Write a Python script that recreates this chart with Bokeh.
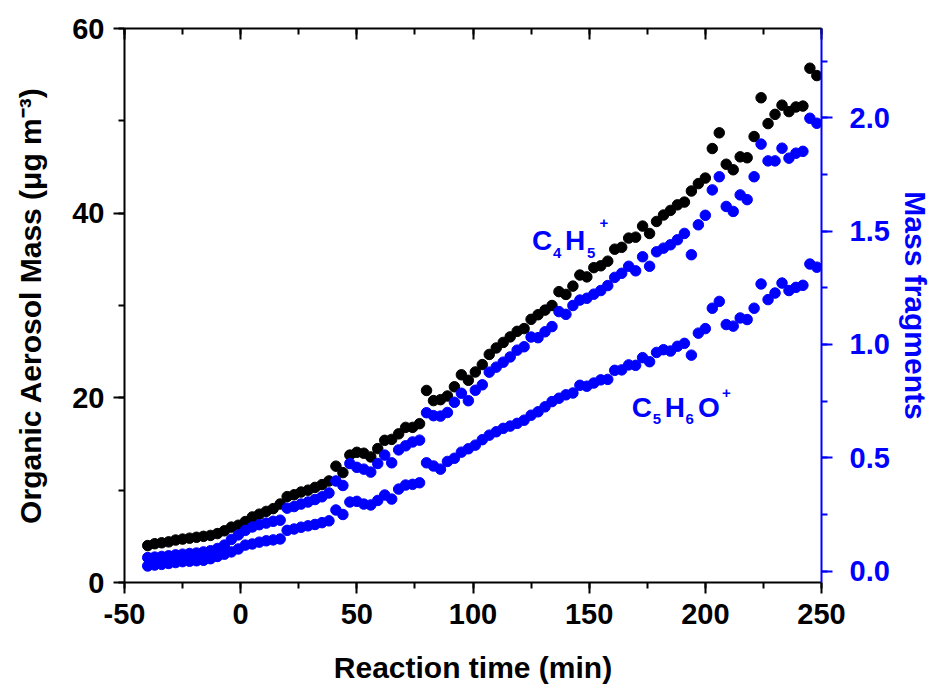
from bokeh.plotting import figure
from bokeh.models import Range1d, LinearAxis, SingleIntervalTicker, PrintfTickFormatter, CustomJSTickFormatter, ColumnDataSource
from bokeh.core.properties import value
from bokeh.embed import file_html
from bokeh.resources import INLINE

# ---------------- data ----------------
time_min = [-40, -37, -34, -31, -28, -25, -22, -19, -16, -13,
            -10, -7, -4, -1, 2, 5, 8, 11, 14, 17,
            20, 23, 26, 29, 32, 35, 38, 41, 44, 47,
            50, 53, 56, 59, 62, 65, 68, 71, 74, 77,
            80, 83, 86, 89, 92, 95, 98, 101, 104, 107,
            110, 113, 116, 119, 122, 125, 128, 131, 134, 137,
            140, 143, 146, 149, 152, 155, 158, 161, 164, 167,
            170, 173, 176, 179, 182, 185, 188, 191, 194, 197,
            200, 203, 206, 209, 212, 215, 218, 221, 224, 227,
            230, 233, 236, 239, 242, 245, 248]

oa_mass = [4.0, 4.2, 4.3, 4.4, 4.6, 4.7, 4.8, 4.9, 5.0, 5.1,
           5.3, 5.6, 6.0, 6.2, 6.6, 7.1, 7.4, 7.7, 8.0, 8.5,
           9.3, 9.5, 9.8, 10.0, 10.3, 10.6, 11.0, 12.6, 11.9, 13.8,
           14.1, 14.0, 13.6, 14.5, 15.4, 15.5, 16.1, 16.8, 16.8, 17.2,
           20.8, 19.7, 19.8, 20.2, 21.2, 22.5, 21.9, 22.8, 23.6, 24.7,
           25.4, 26.0, 26.6, 27.2, 27.5, 28.5, 29.0, 29.5, 30.0, 31.5,
           31.2, 32.1, 33.3, 33.1, 34.1, 34.3, 34.8, 36.1, 36.3, 37.3,
           37.4, 38.6, 37.8, 39.1, 39.8, 40.3, 40.9, 41.2, 42.4, 43.2,
           43.8, 47.0, 48.7, 45.3, 44.7, 46.1, 46.0, 48.3, 52.5, 49.7,
           50.7, 51.7, 51.0, 51.5, 51.6, 55.7, 54.9]

c4h5 = [0.060, 0.062, 0.065, 0.068, 0.072, 0.075, 0.078, 0.080, 0.085, 0.090,
        0.100, 0.115, 0.140, 0.160, 0.180, 0.195, 0.205, 0.212, 0.220, 0.225,
        0.278, 0.285, 0.296, 0.305, 0.316, 0.328, 0.345, 0.398, 0.378, 0.475,
        0.458, 0.450, 0.437, 0.475, 0.512, 0.478, 0.535, 0.553, 0.570, 0.578,
        0.699, 0.686, 0.684, 0.700, 0.745, 0.785, 0.752, 0.798, 0.822, 0.878,
        0.900, 0.922, 0.945, 0.975, 0.990, 1.033, 1.030, 1.056, 1.079, 1.145,
        1.133, 1.172, 1.196, 1.204, 1.222, 1.238, 1.260, 1.296, 1.314, 1.345,
        1.325, 1.387, 1.345, 1.409, 1.425, 1.440, 1.462, 1.490, 1.396, 1.528,
        1.570, 1.682, 1.740, 1.609, 1.587, 1.660, 1.639, 1.740, 1.884, 1.810,
        1.810, 1.866, 1.822, 1.844, 1.852, 1.998, 1.976]

c5h6o = [0.023, 0.027, 0.030, 0.034, 0.038, 0.042, 0.044, 0.046, 0.048, 0.055,
         0.065, 0.075, 0.085, 0.098, 0.115, 0.120, 0.128, 0.134, 0.138, 0.142,
         0.180, 0.186, 0.194, 0.200, 0.206, 0.214, 0.222, 0.270, 0.250, 0.305,
         0.308, 0.296, 0.292, 0.312, 0.336, 0.318, 0.362, 0.380, 0.383, 0.390,
         0.478, 0.464, 0.450, 0.484, 0.498, 0.525, 0.540, 0.556, 0.580, 0.600,
         0.615, 0.630, 0.640, 0.652, 0.666, 0.688, 0.703, 0.725, 0.748, 0.763,
         0.778, 0.786, 0.820, 0.816, 0.830, 0.844, 0.846, 0.886, 0.888, 0.910,
         0.908, 0.942, 0.924, 0.965, 0.977, 0.971, 0.992, 1.005, 0.953, 1.050,
         1.070, 1.160, 1.190, 1.088, 1.081, 1.117, 1.110, 1.160, 1.267, 1.198,
         1.227, 1.271, 1.238, 1.252, 1.261, 1.355, 1.341]

x_label = "Reaction time (min)"
y_left_label = "Organic Aerosol Mass (\u03bcg m\u207b\u00b3)"
y_right_label = "Mass fragments"

BLUE = "#0000ff"
FONT = "Liberation Sans"

# ---------------- layout ----------------
W, H = 934, 691
ML, MR, MT, MB = 124, 112, 28, 109
XR = (-50, 250)
YL = (0, 60)
YR = (-0.05, 2.394)

p = figure(width=W, height=H, x_range=Range1d(*XR), y_range=Range1d(*YL),
           output_backend="svg", toolbar_location=None,
           min_border_left=ML, min_border_right=MR, min_border_top=MT, min_border_bottom=MB,
           background_fill_color="white", border_fill_color="white")
p.extra_y_ranges = {"frag": Range1d(*YR)}
p.xgrid.visible = False
p.ygrid.visible = False
p.outline_line_color = None


def style_axis(ax, color, tick_in=False):
    ax.axis_line_color = color
    ax.axis_line_width = 2
    ax.major_tick_line_color = color
    ax.major_tick_line_width = 2
    ax.minor_tick_line_color = color
    ax.minor_tick_line_width = 2
    if tick_in:
        ax.major_tick_in, ax.major_tick_out = 11, 0
        ax.minor_tick_in, ax.minor_tick_out = 6, 0
    else:
        ax.major_tick_in, ax.major_tick_out = 0, 11
        ax.minor_tick_in, ax.minor_tick_out = 0, 6
    ax.major_label_text_font = FONT
    ax.major_label_text_font_style = "bold"
    ax.major_label_text_font_size = "29px"
    ax.major_label_text_color = color
    ax.axis_label_text_font = FONT
    ax.axis_label_text_font_style = "bold"
    ax.axis_label_text_font_size = "30px"
    ax.axis_label_text_color = color


# bottom
xa = p.xaxis[0]
xa.ticker = SingleIntervalTicker(interval=50, num_minor_ticks=2)
xa.formatter = PrintfTickFormatter(format="%d")
style_axis(xa, "black")
xa.axis_label = x_label
xa.major_label_standoff = 10
xa.axis_label_standoff = 24

# left
ya = p.yaxis[0]
ya.ticker = SingleIntervalTicker(interval=20, num_minor_ticks=2)
ya.formatter = PrintfTickFormatter(format="%d")
style_axis(ya, "black")
ya.axis_label = y_left_label
ya.major_label_standoff = 9
ya.axis_label_standoff = 22

# top (ticks only)
top = LinearAxis(ticker=SingleIntervalTicker(interval=50, num_minor_ticks=2),
                 formatter=CustomJSTickFormatter(code="return ''"))
style_axis(top, "black", tick_in=True)
p.add_layout(top, "above")

# right
ra = LinearAxis(y_range_name="frag", ticker=SingleIntervalTicker(interval=0.5, num_minor_ticks=2),
                formatter=PrintfTickFormatter(format="%.1f"))
style_axis(ra, BLUE)
ra.axis_label = y_right_label
ra.major_label_standoff = 17
ra.axis_label_standoff = 6
p.add_layout(ra, "right")

# ---------------- data marks ----------------
src = ColumnDataSource(dict(t=time_min, oa=oa_mass, c4=c4h5, c5=c5h6o))
p.scatter("t", "oa", source=src, size=10.5, color="black", marker="circle")
p.scatter("t", "c4", source=src, size=10.5, color=BLUE, marker="circle", y_range_name="frag")
p.scatter("t", "c5", source=src, size=10.5, color=BLUE, marker="circle", y_range_name="frag")

# ---------------- formula annotations ----------------
px_x = (W - ML - MR) / (XR[1] - XR[0])
px_y = (H - MT - MB) / (YL[1] - YL[0])


def formula(x0, y0, pieces):
    xs, ys, txt, sizes = [], [], [], []
    for s, dx, dy, big in pieces:
        xs.append(x0 + dx / px_x)
        ys.append(y0 - dy / px_y)
        txt.append(s)
        sizes.append("28px" if big else "15px")
    srcf = ColumnDataSource(dict(x=xs, y=ys, text=txt, size=sizes))
    p.text("x", "y", text="text", source=srcf, text_font=value(FONT), text_font_style="bold",
           text_font_size="size", text_color=BLUE, text_align="left", text_baseline="alphabetic")


formula(125.4, 37.0, [("C", 0, 0, True), ("4", 21, 12, False), ("H", 33, 0, True),
                      ("5", 55, 12, False), ("+", 67.5, -18, False)])
formula(168.3, 18.9, [("C", 0, 0, True), ("5", 21, 11.5, False), ("H", 33, 0, True),
                      ("6", 54, 11.5, False), ("O", 66.5, 0, True), ("+", 90.5, -15, False)])

open("out.html", "w").write(file_html(p, INLINE))
